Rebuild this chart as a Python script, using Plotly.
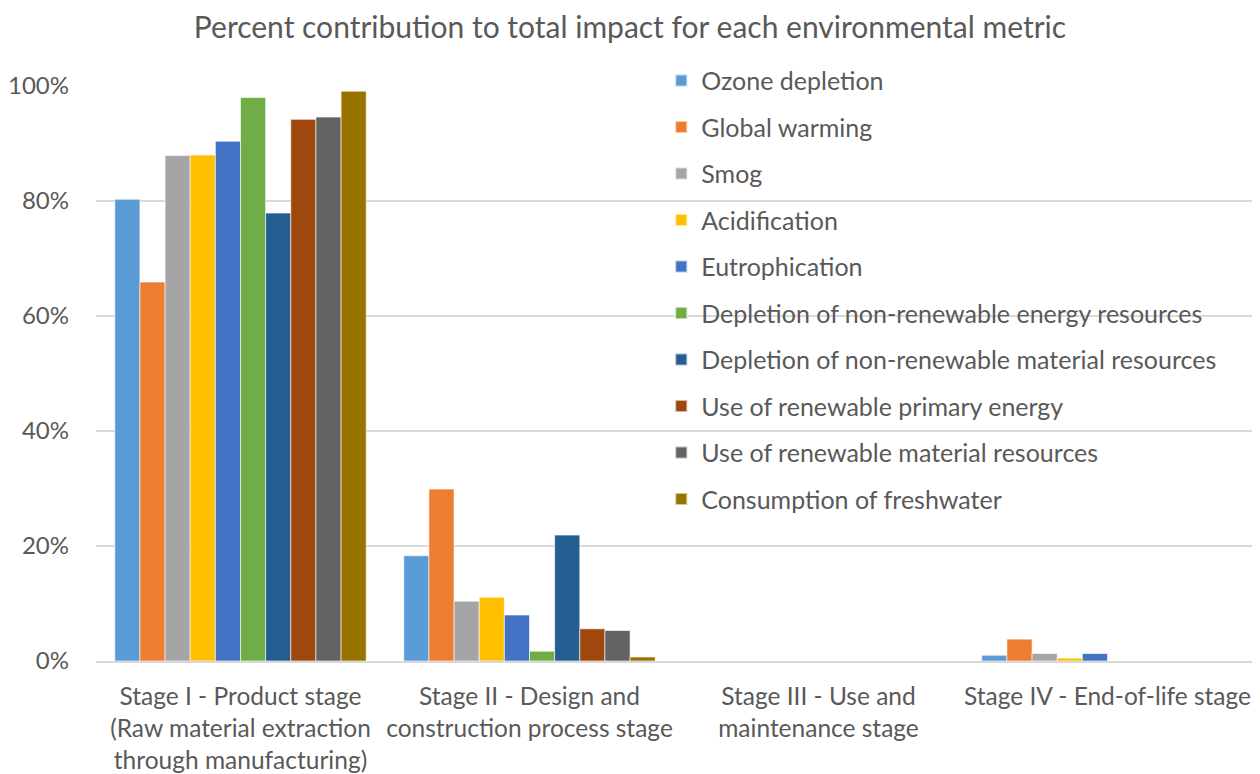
import plotly.graph_objects as go

categories = [
    "Stage I - Product stage<br>(Raw material extraction<br>through manufacturing)",
    "Stage II - Design and<br>construction process stage",
    "Stage III - Use and<br>maintenance stage",
    "Stage IV - End-of-life stage",
]

series_names = [
    "Ozone depletion",
    "Global warming",
    "Smog",
    "Acidification",
    "Eutrophication",
    "Depletion of non-renewable energy resources",
    "Depletion of non-renewable material resources",
    "Use of renewable primary energy",
    "Use of renewable material resources",
    "Consumption of freshwater",
]

# values per series: [Stage I, Stage II, Stage III, Stage IV] (fractions)
ozone_depletion = [0.803, 0.183, 0.0, 0.010]
global_warming = [0.659, 0.299, 0.0, 0.038]
smog = [0.879, 0.104, 0.0, 0.013]
acidification = [0.880, 0.111, 0.0, 0.005]
eutrophication = [0.904, 0.080, 0.0, 0.013]
depl_energy = [0.980, 0.017, 0.0, 0.0]
depl_material = [0.779, 0.219, 0.0, 0.0]
renew_energy = [0.942, 0.056, 0.0, 0.0]
renew_material = [0.946, 0.053, 0.0, 0.0]
freshwater = [0.991, 0.007, 0.0, 0.0]

series_values = [ozone_depletion, global_warming, smog, acidification, eutrophication,
                 depl_energy, depl_material, renew_energy, renew_material, freshwater]

colors = ["#5B9BD5", "#ED7D31", "#A5A5A5", "#FFC000", "#4472C4",
          "#70AD47", "#255E91", "#9E480E", "#636363", "#997300"]

tick_vals = [0, 0.2, 0.4, 0.6, 0.8, 1.0]
tick_text = ["0%", "20%", "40%", "60%", "80%", "100%"]

FONT = "Lato"

fig = go.Figure()
for name, vals, col in zip(series_names, series_values, colors):
    fig.add_trace(go.Bar(
        name=name, x=categories, y=vals, legendgroup=name,
        marker=dict(color=col, line=dict(color="rgba(255,255,255,0.6)", width=1)),
    ))

fig.update_layout(
    width=1244, height=766,
    barmode="group", bargap=0.13, bargroupgap=0,
    paper_bgcolor="white", plot_bgcolor="white",
    font=dict(family=FONT, color="#595959", size=24),
    title=dict(text="Percent contribution to total impact for each environmental metric",
               x=0.5, xanchor="center", y=0.975, yanchor="middle", yref="container",
               font=dict(family=FONT, size=30, color="#595959")),
    margin=dict(l=88, r=0, t=78, b=113),
    showlegend=True,
    legend=dict(x=0.489, y=1.049, xanchor="left", yanchor="top",
                maxheight=640, bgcolor="rgba(255,255,255,0)",
                font=dict(family=FONT, size=25, color="#595959"),
                tracegroupgap=11, itemsizing="constant"),
    xaxis=dict(showline=True, linecolor="#D9D9D9", linewidth=1.5, ticks="",
               tickfont=dict(size=24.5, color="#595959"), ticklabelstandoff=13,
               automargin=False),
    yaxis=dict(range=[0, 1.0], tickvals=tick_vals, ticktext=tick_text,
               showgrid=True, gridcolor="#D9D9D9", gridwidth=1.5,
               zeroline=False, ticks="", tickfont=dict(size=24, color="#595959"),
               ticklabelstandoff=26, automargin=False),
)

fig.write_html("out.html")
